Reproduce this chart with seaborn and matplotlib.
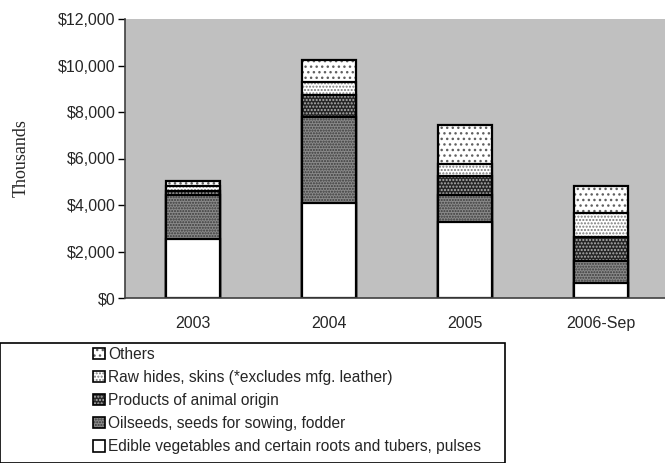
import numpy as np
import pandas as pd
import seaborn as sns
import matplotlib.pyplot as plt
from matplotlib.patches import Patch, Rectangle
from matplotlib.ticker import StrMethodFormatter, FixedLocator

# values in thousands of dollars
years = ['2003', '2004', '2005', '2006-Sep']
edible = [2540, 4090, 3280, 660]
oilseeds = [1890, 3690, 1150, 940]
animal = [170, 950, 830, 1040]
hides = [200, 560, 490, 1000]
others = [250, 950, 1690, 1180]

labels = ['Edible vegetables and certain roots and tubers, pulses',
          'Oilseeds, seeds for sowing, fodder',
          'Products of animal origin',
          'Raw hides, skins (*excludes mfg. leather)',
          'Others']

# fill, hatch, hatch colour for each layer (bottom to top)
styles = [('white', None, 'white'),
          ('#8a8a8a', '......', '#3a3a3a'),
          ('#262626', '.....', '#b0b0b0'),
          ('white', '.....', '#7a7a7a'),
          ('white', '...', '#606060')]

FS = 11.5

sns.set_style('white')
plt.rcParams['font.family'] = ['Liberation Sans', 'DejaVu Sans']
plt.rcParams['hatch.linewidth'] = 1.0

df = pd.DataFrame({'year': years, 'edible': edible, 'oilseeds': oilseeds,
                   'animal': animal, 'hides': hides, 'others': others})
layers = ['edible', 'oilseeds', 'animal', 'hides', 'others']
cum = df[layers].cumsum(axis=1)

fig = plt.figure(figsize=(6.65, 4.63), dpi=100)
ax = fig.add_axes([125 / 665, (463 - 298) / 463, 544 / 665, 279 / 463])
ax.set_facecolor('#c0c0c0')

# draw tallest first so lower layers cover it
for i in reversed(range(len(layers))):
    fc, hatch, hc = styles[i]
    n0 = len(ax.patches)
    sns.barplot(x=df['year'], y=cum[layers[i]], ax=ax, color=fc, width=0.4,
                saturation=1, errorbar=None)
    for p in ax.patches[n0:]:
        p.set_facecolor(fc)
        p.set_edgecolor(hc)
        p.set_linewidth(0)
        p.set_hatch(hatch)
    n0 = len(ax.patches)
    sns.barplot(x=df['year'], y=cum[layers[i]], ax=ax, color=fc, width=0.4,
                saturation=1, errorbar=None)
    for p in ax.patches[n0:]:
        p.set_facecolor('none')
        p.set_edgecolor('black')
        p.set_linewidth(1.6)

ax.set_ylim(0, 12000)
ax.set_xlim(-0.5, 3.5)
ax.yaxis.set_major_formatter(StrMethodFormatter('${x:,.0f}'))
ax.set_yticks(np.arange(0, 12001, 2000))
ax.set_xlabel('')
ax.set_ylabel('')
ax.xaxis.set_minor_locator(FixedLocator([-0.5, 0.5, 1.5, 2.5, 3.5]))
ax.tick_params(axis='x', which='major', length=0, pad=13, labelsize=FS)
ax.tick_params(axis='x', which='minor', length=5, width=1, color='black', direction='out')
ax.tick_params(axis='y', length=5, width=1, color='black', direction='out', left=True,
               labelsize=FS, pad=2)
for s in ['top', 'right']:
    ax.spines[s].set_visible(False)
for s in ['left', 'bottom']:
    ax.spines[s].set_color('#404040')
    ax.spines[s].set_linewidth(1.2)

fig.text(21 / 665, (463 - 158) / 463, 'Thousands', rotation=90, ha='center', va='center',
         fontsize=13, family='Liberation Serif')

# legend box
fig.patches.append(Rectangle((0, 0), 505 / 665, 120 / 463, transform=fig.transFigure,
                             facecolor='white', edgecolor='black', linewidth=1.2))
handles = []
for fc, hatch, hc in reversed(styles):
    fill = Patch(facecolor=fc, edgecolor=hc, hatch=hatch, linewidth=0)
    edge = Patch(facecolor='none', edgecolor='black', linewidth=1.2)
    handles.append((fill, edge))
fig.legend(handles, list(reversed(labels)), loc='upper left',
           bbox_to_anchor=(85 / 665, 124 / 463), frameon=False, fontsize=11.2,
           handlelength=0.78, handleheight=0.78, handletextpad=0.2,
           labelspacing=0.52, borderpad=0)

fig.savefig('out.png', dpi=100)
